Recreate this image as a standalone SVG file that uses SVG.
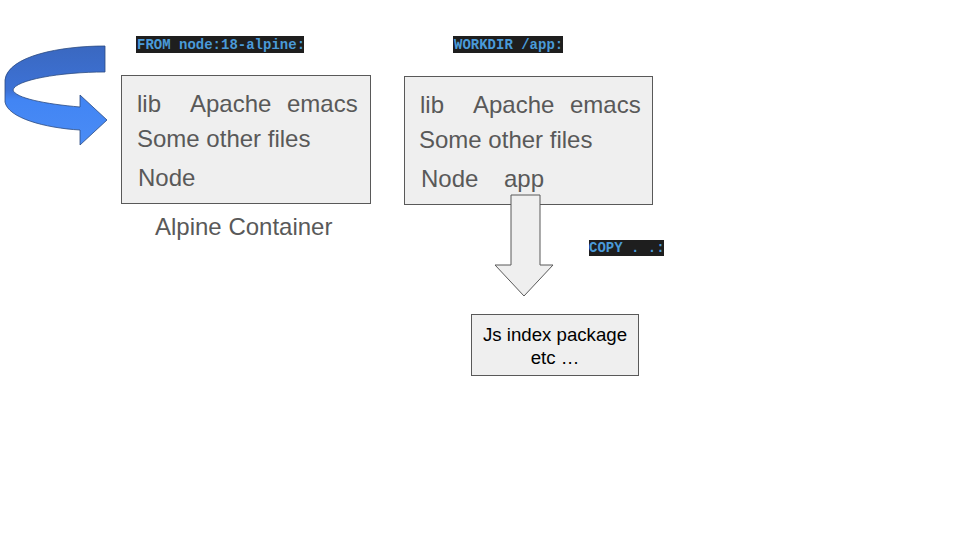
<svg xmlns="http://www.w3.org/2000/svg" width="960" height="540" viewBox="0 0 960 540">
<defs>
<linearGradient id="g" x1="0" y1="0" x2="0" y2="1">
<stop offset="0" stop-color="#3a68c0"/>
<stop offset="0.45" stop-color="#3d72d6"/>
<stop offset="0.55" stop-color="#4285f4"/>
<stop offset="1" stop-color="#4a8cf5"/>
</linearGradient>
<style>
.box{fill:#efefef;stroke:#595959;stroke-width:1}
.t{font-family:"Liberation Sans",Arial,sans-serif;font-size:24px;fill:#595959}
.s{font-family:"Liberation Sans",Arial,sans-serif;font-size:18.67px;fill:#000}
.cbg{fill:#1e1e1e}
.c{font-family:"Liberation Mono","Courier New",monospace;font-size:14px;font-weight:bold;fill:#4a9ad8}
</style>
</defs>
<rect width="960" height="540" fill="#fff"/>
<g id="curved-arrow">
<path d="M105,46 C60,46 8,56 5,80 L5,102 C8,118 45,128 80,130 L80,145 L107,120 L80,95 L80,107 C45,104 15,98 13,90 C15,80 60,72 105,72 Z" fill="url(#g)" stroke="#2b4a80" stroke-width="0.8"/>
</g>
<g id="label-from">
<rect class="cbg" x="136" y="36" width="168" height="17"/>
<text class="c" x="137" y="49">FROM node:18-alpine:</text>
</g>
<g id="label-workdir">
<rect class="cbg" x="453" y="36" width="110" height="17"/>
<text class="c" x="454" y="49">WORKDIR /app:</text>
</g>
<g id="label-copy">
<rect class="cbg" x="589" y="240" width="75" height="16"/>
<text class="c" x="589" y="252">COPY . .:</text>
</g>
<g id="alpine-box">
<rect class="box" x="121.5" y="75.5" width="249" height="128"/>
<text class="t" x="137" y="112">lib</text>
<text class="t" x="190" y="112">Apache</text>
<text class="t" x="287" y="112">emacs</text>
<text class="t" x="137" y="147">Some other files</text>
<text class="t" x="138" y="186">Node</text>
</g>
<g id="alpine-caption">
<text class="t" x="155" y="235">Alpine Container</text>
</g>
<g id="workdir-box">
<rect class="box" x="404.5" y="76.5" width="248" height="128"/>
<text class="t" x="420" y="113">lib</text>
<text class="t" x="473" y="113">Apache</text>
<text class="t" x="570" y="113">emacs</text>
<text class="t" x="419" y="148">Some other files</text>
<text class="t" x="421" y="187">Node</text>
<text class="t" x="504" y="187">app</text>
</g>
<g id="connectors">
<path class="box" d="M511,195 L540,195 L540,265 L553,265 L524,296 L495,265 L511,265 Z"/>
</g>
<g id="files-box">
<rect class="box" x="471.5" y="314.5" width="167" height="61"/>
<text class="s" x="555" y="341" text-anchor="middle">Js index package</text>
<text class="s" x="555" y="364" text-anchor="middle">etc …</text>
</g>
</svg>
